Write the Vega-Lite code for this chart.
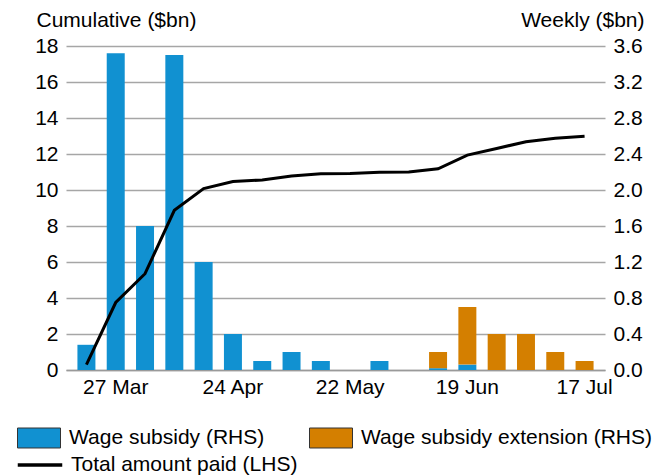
{
  "$schema": "https://vega.github.io/schema/vega-lite/v6.json",
  "width": 539,
  "height": 324,
  "autosize": {"type": "none"},
  "padding": {"left": 66, "top": 46, "right": 65, "bottom": 106},
  "background": "white",
  "config": {
    "font": "Liberation Sans",
    "view": {"stroke": null},
    "axis": {"labelFontSize": 21, "titleFontSize": 21, "labelColor": "#000", "titleColor": "#000", "titleFontWeight": "normal"},
    "legend": {"labelFontSize": 21, "labelColor": "#000", "labelLimit": 400}
  },
  "datasets": {
    "weekly": [
      {"week": "20 Mar", "series": "Wage subsidy (RHS)", "value": 0.28},
      {"week": "20 Mar", "series": "Wage subsidy extension (RHS)", "value": 0},
      {"week": "27 Mar", "series": "Wage subsidy (RHS)", "value": 3.52},
      {"week": "27 Mar", "series": "Wage subsidy extension (RHS)", "value": 0},
      {"week": "3 Apr", "series": "Wage subsidy (RHS)", "value": 1.6},
      {"week": "3 Apr", "series": "Wage subsidy extension (RHS)", "value": 0},
      {"week": "10 Apr", "series": "Wage subsidy (RHS)", "value": 3.5},
      {"week": "10 Apr", "series": "Wage subsidy extension (RHS)", "value": 0},
      {"week": "17 Apr", "series": "Wage subsidy (RHS)", "value": 1.2},
      {"week": "17 Apr", "series": "Wage subsidy extension (RHS)", "value": 0},
      {"week": "24 Apr", "series": "Wage subsidy (RHS)", "value": 0.4},
      {"week": "24 Apr", "series": "Wage subsidy extension (RHS)", "value": 0},
      {"week": "1 May", "series": "Wage subsidy (RHS)", "value": 0.1},
      {"week": "1 May", "series": "Wage subsidy extension (RHS)", "value": 0},
      {"week": "8 May", "series": "Wage subsidy (RHS)", "value": 0.2},
      {"week": "8 May", "series": "Wage subsidy extension (RHS)", "value": 0},
      {"week": "15 May", "series": "Wage subsidy (RHS)", "value": 0.1},
      {"week": "15 May", "series": "Wage subsidy extension (RHS)", "value": 0},
      {"week": "22 May", "series": "Wage subsidy (RHS)", "value": 0},
      {"week": "22 May", "series": "Wage subsidy extension (RHS)", "value": 0},
      {"week": "29 May", "series": "Wage subsidy (RHS)", "value": 0.1},
      {"week": "29 May", "series": "Wage subsidy extension (RHS)", "value": 0},
      {"week": "5 Jun", "series": "Wage subsidy (RHS)", "value": 0},
      {"week": "5 Jun", "series": "Wage subsidy extension (RHS)", "value": 0},
      {"week": "12 Jun", "series": "Wage subsidy (RHS)", "value": 0.02},
      {"week": "12 Jun", "series": "Wage subsidy extension (RHS)", "value": 0.18},
      {"week": "19 Jun", "series": "Wage subsidy (RHS)", "value": 0.06},
      {"week": "19 Jun", "series": "Wage subsidy extension (RHS)", "value": 0.64},
      {"week": "26 Jun", "series": "Wage subsidy (RHS)", "value": 0},
      {"week": "26 Jun", "series": "Wage subsidy extension (RHS)", "value": 0.4},
      {"week": "3 Jul", "series": "Wage subsidy (RHS)", "value": 0},
      {"week": "3 Jul", "series": "Wage subsidy extension (RHS)", "value": 0.4},
      {"week": "10 Jul", "series": "Wage subsidy (RHS)", "value": 0},
      {"week": "10 Jul", "series": "Wage subsidy extension (RHS)", "value": 0.2},
      {"week": "17 Jul", "series": "Wage subsidy (RHS)", "value": 0},
      {"week": "17 Jul", "series": "Wage subsidy extension (RHS)", "value": 0.1}
    ],
    "cumulative": [
      {"week": "20 Mar", "series": "Total amount paid (LHS)", "total": 0.3},
      {"week": "27 Mar", "series": "Total amount paid (LHS)", "total": 3.75},
      {"week": "3 Apr", "series": "Total amount paid (LHS)", "total": 5.35},
      {"week": "10 Apr", "series": "Total amount paid (LHS)", "total": 8.87},
      {"week": "17 Apr", "series": "Total amount paid (LHS)", "total": 10.08},
      {"week": "24 Apr", "series": "Total amount paid (LHS)", "total": 10.47},
      {"week": "1 May", "series": "Total amount paid (LHS)", "total": 10.56},
      {"week": "8 May", "series": "Total amount paid (LHS)", "total": 10.78},
      {"week": "15 May", "series": "Total amount paid (LHS)", "total": 10.9},
      {"week": "22 May", "series": "Total amount paid (LHS)", "total": 10.91},
      {"week": "29 May", "series": "Total amount paid (LHS)", "total": 10.99},
      {"week": "5 Jun", "series": "Total amount paid (LHS)", "total": 11.0},
      {"week": "12 Jun", "series": "Total amount paid (LHS)", "total": 11.18},
      {"week": "19 Jun", "series": "Total amount paid (LHS)", "total": 11.94},
      {"week": "26 Jun", "series": "Total amount paid (LHS)", "total": 12.31},
      {"week": "3 Jul", "series": "Total amount paid (LHS)", "total": 12.68},
      {"week": "10 Jul", "series": "Total amount paid (LHS)", "total": 12.87},
      {"week": "17 Jul", "series": "Total amount paid (LHS)", "total": 12.98}
    ]
  },
  "layer": [
    {
      "data": {"name": "weekly"},
      "mark": {"type": "bar"},
      "encoding": {
        "x": {
          "field": "week", "type": "ordinal", "sort": null,
          "scale": {"paddingInner": 0.386, "paddingOuter": 0.39},
          "axis": {
            "title": null, "labelAngle": 0, "ticks": false, "grid": false,
            "domainColor": "#9a9a9a", "domainWidth": 1.5, "labelPadding": 6,
            "labelOverlap": false,
            "labelExpr": "indexof(['27 Mar','24 Apr','22 May','19 Jun','17 Jul'], datum.value) >= 0 ? datum.value : ''"
          }
        },
        "y": {
          "field": "value", "type": "quantitative", "stack": "zero",
          "scale": {"domain": [0, 3.6], "nice": false},
          "axis": {
            "orient": "right", "values": [0, 0.4, 0.8, 1.2, 1.6, 2.0, 2.4, 2.8, 3.2, 3.6],
            "format": ".1f", "grid": false, "ticks": false, "domain": false, "labelPadding": 8,
            "title": "Weekly ($bn)", "titleAngle": 0, "titleAlign": "right", "titleBaseline": "alphabetic",
            "titleX": 39, "titleY": -20
          }
        },
        "color": {
          "field": "series", "type": "nominal",
          "scale": {"domain": ["Wage subsidy (RHS)", "Wage subsidy extension (RHS)"], "range": ["#1191D1", "#D47F00"]},
          "legend": {
            "title": null, "orient": "none", "legendX": -49, "legendY": 370,
            "direction": "horizontal", "columns": 2, "columnPadding": 42,
            "symbolType": "M-1,-0.465H1V0.465H-1Z", "symbolSize": 1849,
            "symbolStrokeColor": "#333", "symbolStrokeWidth": 1, "symbolOpacity": 1,
            "labelOffset": 8
          }
        },
        "order": {"field": "series", "type": "nominal", "sort": "ascending"}
      }
    },
    {
      "data": {"name": "cumulative"},
      "mark": {"type": "line", "strokeWidth": 3},
      "encoding": {
        "x": {"field": "week", "type": "ordinal", "sort": null},
        "y": {
          "field": "total", "type": "quantitative",
          "scale": {"domain": [0, 18], "nice": false},
          "axis": {
            "orient": "left", "values": [0, 2, 4, 6, 8, 10, 12, 14, 16, 18],
            "grid": true, "gridColor": "#a6a6a6", "gridWidth": 1.3,
            "ticks": false, "domain": false, "labelPadding": 8,
            "title": "Cumulative ($bn)", "titleAngle": 0, "titleAlign": "left", "titleBaseline": "alphabetic",
            "titleX": -30, "titleY": -20
          }
        },
        "stroke": {
          "field": "series", "type": "nominal",
          "scale": {"domain": ["Total amount paid (LHS)"], "range": ["#000000"]},
          "legend": {
            "title": null, "orient": "none", "legendX": -50, "legendY": 395,
            "symbolType": "stroke", "symbolSize": 1980, "symbolStrokeWidth": 3.5,
            "labelOffset": 7
          }
        }
      }
    }
  ],
  "resolve": {"scale": {"y": "independent", "color": "independent", "stroke": "independent"}, "legend": {"color": "independent", "stroke": "independent"}}
}
